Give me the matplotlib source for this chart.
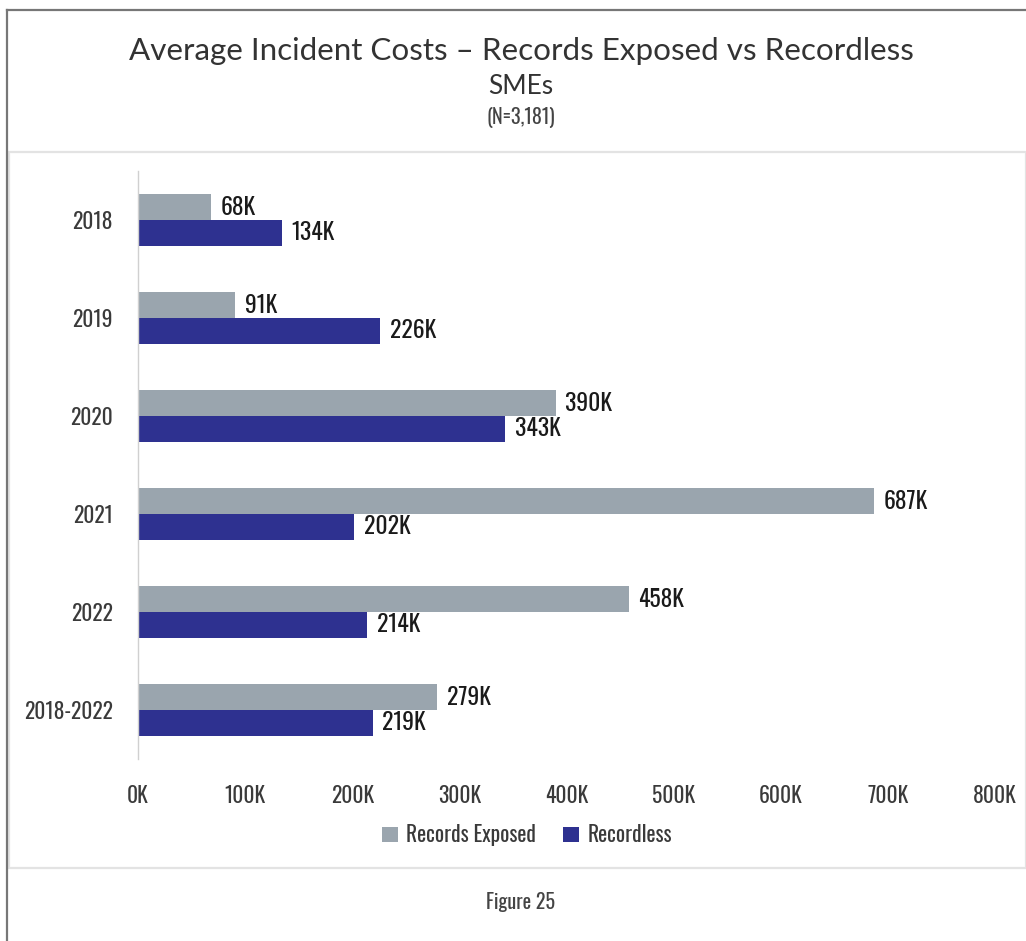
import matplotlib
matplotlib.use("Agg")
import matplotlib.pyplot as plt
from matplotlib import font_manager
from matplotlib.patches import Rectangle, Patch
from matplotlib.lines import Line2D
from matplotlib.ticker import FuncFormatter

categories = ["2018", "2019", "2020", "2021", "2022", "2018-2022"]
records_exposed = [68, 91, 390, 687, 458, 279]   # thousands
recordless = [134, 226, 343, 202, 214, 219]      # thousands
series_names = ["Records Exposed", "Recordless"]
x_ticks = [0, 100, 200, 300, 400, 500, 600, 700, 800]

GRAY = "#9aa5ae"
BLUE = "#2e3190"
TEXT = "#333333"

installed = {f.name for f in font_manager.fontManager.ttflist}
narrow = None
for cand in ["Oswald", "Roboto Condensed", "Liberation Sans Narrow",
             "DejaVu Sans Condensed", "Open Sans Condensed", "Noto Sans"]:
    if cand in installed:
        narrow = cand
        break
title_font = "Lato"
narrow_kw = dict(family=[narrow, "DejaVu Sans"])
if narrow in ("Noto Sans",):
    narrow_kw["stretch"] = "condensed"

W, H = 1026, 941
fig = plt.figure(figsize=(W / 100, H / 100), dpi=100)

def fx(px):
    return px / W

def fy(py):
    return 1 - py / H

# frame and section boxes
fig.add_artist(Line2D([fx(7), fx(7)], [fy(10), 0], color="#777777", lw=1.6))
fig.add_artist(Line2D([fx(7), 1], [fy(10), fy(10)], color="#777777", lw=1.6))
fig.add_artist(Rectangle((fx(9), fy(868)), 1 - fx(9), fy(152) - fy(868),
                         facecolor="none", edgecolor="#e3e3e3", lw=1.6))

cx = fx(521)
fig.text(cx, fy(51), "Average Incident Costs \u2013 Records Exposed vs Recordless",
         ha="center", va="center", fontsize=22.6, color="#333333", family=title_font,
         fontweight="normal")
fig.text(cx, fy(87), "SMEs", ha="center", va="center", fontsize=19,
         color="#333333", family=title_font, fontweight="normal")
fig.text(cx, fy(117), "(N=3,181)", ha="center", va="center", fontsize=14.5,
         color="#444444", **narrow_kw)
fig.text(cx, fy(902), "Figure 25", ha="center", va="center", fontsize=14.5,
         color="#444444", **narrow_kw)

ax = fig.add_axes([fx(138), fy(759), fx(995) - fx(138), fy(171) - fy(759)])
n = len(categories)
pos = list(range(n))
h = 0.262
ax.barh([p - h / 2 for p in pos], records_exposed, height=h, color=GRAY,
        label=series_names[0])
ax.barh([p + h / 2 for p in pos], recordless, height=h, color=BLUE,
        label=series_names[1])
for p, a, b in zip(pos, records_exposed, recordless):
    ax.text(a + 9, p - h / 2, f"{a}K", va="center", ha="left", fontsize=17,
            color="#1a1a1a", **narrow_kw)
    ax.text(b + 9, p + h / 2, f"{b}K", va="center", ha="left", fontsize=17,
            color="#1a1a1a", **narrow_kw)

ax.set_ylim(n - 0.5, -0.5)
ax.set_xlim(0, 800)
ax.set_yticks(pos)
ax.set_yticklabels(categories)
ax.set_xticks(x_ticks)
ax.xaxis.set_major_formatter(FuncFormatter(lambda v, _: f"{int(v)}K"))
for s in ["top", "right", "bottom"]:
    ax.spines[s].set_visible(False)
ax.spines["left"].set_color("#d0d0d0")
ax.spines["left"].set_linewidth(1)
ax.tick_params(axis="both", length=0, colors="#3a3a3a", labelsize=15.5)
ax.tick_params(axis="x", pad=19)
ax.tick_params(axis="y", pad=18)
for lbl in ax.get_xticklabels() + ax.get_yticklabels():
    lbl.set_fontfamily(narrow_kw["family"])
    if "stretch" in narrow_kw:
        lbl.set_fontstretch(narrow_kw["stretch"])

handles = [Patch(facecolor=GRAY), Patch(facecolor=BLUE)]
leg = fig.legend(handles, series_names, loc="center",
                 bbox_to_anchor=(fx(527), fy(835)),
                 ncol=2, frameon=False, handlelength=0.75, handleheight=0.75,
                 handletextpad=0.4, columnspacing=1.25,
                 prop=font_manager.FontProperties(family=narrow_kw["family"],
                                                  size=15.5))
for t in leg.get_texts():
    t.set_color("#3a3a3a")

fig.savefig("out.png", dpi=100, facecolor="white")
